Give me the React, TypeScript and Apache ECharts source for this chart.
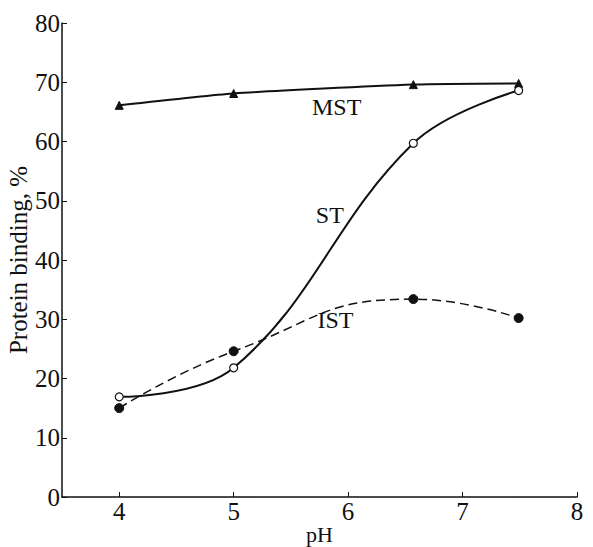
import React, { useEffect, useRef } from "react";
import * as echarts from "echarts";

const xTicks = [4, 5, 6, 7, 8];
const mstX = [4, 5, 6.57, 7.49];
const mstY = [66.1, 68.1, 69.6, 69.8];
const stX = [4, 5, 6.57, 7.49];
const stY = [16.9, 21.8, 59.7, 68.6];
const istX = [4, 5, 6.57, 7.49];
const istY = [15.0, 24.6, 33.4, 30.2];
const labels = [
  { name: "MST", x: 5.9, y: 65.8 },
  { name: "ST", x: 5.84, y: 47.6 },
  { name: "IST", x: 5.89, y: 29.8 },
];

const FONT = "Liberation Serif";

const zip = (xs: number[], ys: number[]) => xs.map((x, i) => [x, ys[i]]);

export default function App() {
  const ref = useRef<HTMLDivElement>(null);
  useEffect(() => {
    if (!ref.current) return;
    const chart = echarts.init(ref.current, null, { renderer: "svg" });
    const labelPoint = (l: { name: string; x: number; y: number }) => ({
      coord: [l.x, l.y],
      symbol: "circle",
      symbolSize: 0,
      label: {
        show: true,
        position: "inside",
        formatter: l.name,
        color: "#111",
        fontFamily: FONT,
        fontSize: 24,
      },
    });
    chart.setOption({
      animation: false,
      backgroundColor: "#fff",
      grid: { left: 62, right: 16, top: 23, bottom: 50, outerBoundsMode: "none", containLabel: false },
      xAxis: {
        type: "value",
        min: 3.5,
        max: 8,
        name: "pH",
        nameLocation: "middle",
        nameGap: 26,
        nameMoveOverlap: false,
        nameTextStyle: { fontFamily: FONT, fontSize: 22, color: "#111", lineHeight: 22 },
        axisLine: { show: true, lineStyle: { color: "#111", width: 1.5 } },
        axisTick: { show: true, inside: true, length: 5, customValues: xTicks, lineStyle: { color: "#111" } },
        axisLabel: { customValues: xTicks, fontFamily: FONT, fontSize: 25, color: "#111", margin: 2 },
        splitLine: { show: false },
      },
      yAxis: {
        type: "value",
        min: 0,
        max: 80,
        interval: 10,
        name: "Protein binding, %",
        nameLocation: "middle",
        nameGap: 31,
        nameMoveOverlap: false,
        nameTextStyle: { fontFamily: FONT, fontSize: 25, color: "#111", lineHeight: 25 },
        axisLine: { show: true, lineStyle: { color: "#111", width: 1.5 } },
        axisTick: { show: true, inside: true, length: 5, lineStyle: { color: "#111" } },
        axisLabel: { fontFamily: FONT, fontSize: 25, color: "#111", margin: 2 },
        splitLine: { show: false },
      },
      series: [
        {
          name: "MST",
          type: "line",
          data: zip(mstX, mstY),
          smooth: 0.2,
          symbol: "triangle",
          symbolSize: 8,
          lineStyle: { color: "#111", width: 2 },
          itemStyle: { color: "#111", borderColor: "#111" },
          markPoint: { data: [labelPoint(labels[0])] },
        },
        {
          name: "ST",
          type: "line",
          data: zip(stX, stY),
          smooth: 0.4,
          symbol: "circle",
          symbolSize: 8,
          lineStyle: { color: "#111", width: 2 },
          itemStyle: { color: "#fff", borderColor: "#111", borderWidth: 1.2 },
          markPoint: { data: [labelPoint(labels[1])] },
          z: 3,
        },
        {
          name: "IST",
          type: "line",
          data: zip(istX, istY),
          smooth: 0.5,
          symbol: "circle",
          symbolSize: 9,
          lineStyle: { color: "#111", width: 1.5, type: [9, 5] },
          itemStyle: { color: "#111", borderColor: "#111" },
          markPoint: { data: [labelPoint(labels[2])] },
          z: 2,
        },
      ],
    });
    return () => chart.dispose();
  }, []);
  return <div ref={ref} style={{ width: 593, height: 547, position: "absolute", left: 0, top: 0 }} />;
}
